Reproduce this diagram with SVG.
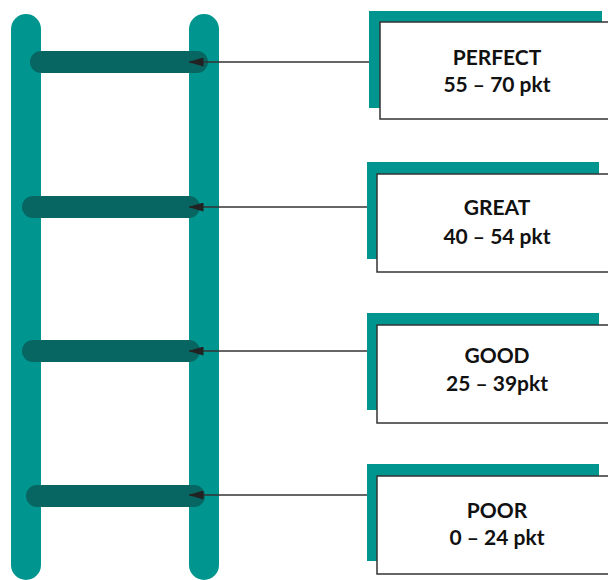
<svg xmlns="http://www.w3.org/2000/svg" width="608" height="580" viewBox="0 0 608 580">
<defs>
<style>
.rail{fill:#00968F}
.rung{fill:#076661}
.back{fill:#00968F}
.box{fill:#fff;stroke:#333;stroke-width:1.5}
.conn{stroke:#333;stroke-width:1.3;fill:none}
.t{font-family:Lato,"Open Sans","Liberation Sans",sans-serif;font-weight:700;font-size:21px;fill:#111;text-anchor:middle}
</style>
<marker id="ah" viewBox="0 0 15 9" refX="14.5" refY="4.5" markerWidth="15" markerHeight="9" markerUnits="userSpaceOnUse" orient="auto">
<path d="M0,0 L15,4.5 L0,9 Z" fill="#222"/>
</marker>
</defs>
<g id="ladder">
<rect class="rail" x="11" y="14" width="30" height="566" rx="15"/>
<rect class="rail" x="189" y="14" width="30" height="566" rx="15"/>
<rect class="rung" x="30" y="51" width="178" height="22" rx="11"/>
<rect class="rung" x="22" y="196" width="178" height="22" rx="11"/>
<rect class="rung" x="22" y="340" width="178" height="22" rx="11"/>
<rect class="rung" x="26" y="485" width="179" height="22" rx="11"/>
</g>
<g id="connectors">
<line class="conn" x1="369" y1="62" x2="189" y2="62" marker-end="url(#ah)"/>
<line class="conn" x1="367" y1="207" x2="189" y2="207" marker-end="url(#ah)"/>
<line class="conn" x1="367" y1="351" x2="189" y2="351" marker-end="url(#ah)"/>
<line class="conn" x1="367" y1="495" x2="189" y2="495" marker-end="url(#ah)"/>
</g>
<g id="perfect">
<rect class="back" x="369" y="11" width="233" height="97"/>
<rect class="box" x="380" y="22" width="240" height="97"/>
<text class="t" x="497" y="65">PERFECT</text>
<text class="t" x="497" y="92">55 – 70 pkt</text>
</g>
<g id="great">
<rect class="back" x="367" y="162" width="232" height="97"/>
<rect class="box" x="377" y="174" width="240" height="98"/>
<text class="t" x="497" y="215">GREAT</text>
<text class="t" x="497" y="244">40 – 54 pkt</text>
</g>
<g id="good">
<rect class="back" x="367" y="313" width="232" height="97"/>
<rect class="box" x="377" y="325" width="240" height="98"/>
<text class="t" x="497" y="363">GOOD</text>
<text class="t" x="497" y="391">25 – 39pkt</text>
</g>
<g id="poor">
<rect class="back" x="367" y="464" width="232" height="97"/>
<rect class="box" x="377" y="476" width="240" height="98"/>
<text class="t" x="497" y="518">POOR</text>
<text class="t" x="497" y="545">0 – 24 pkt</text>
</g>
</svg>
